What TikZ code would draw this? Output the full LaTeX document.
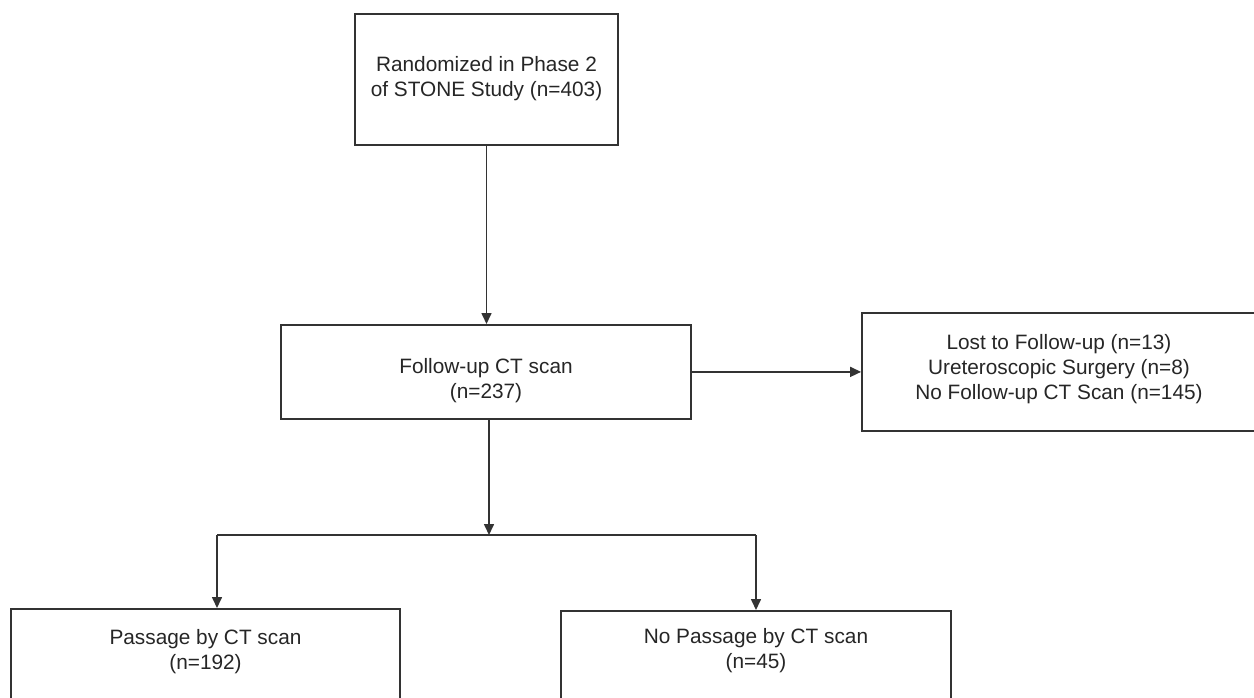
\documentclass[tikz,border=0pt]{standalone}
\usepackage{fontspec}
\setmainfont{Liberation Sans}
\usetikzlibrary{arrows.meta}
\definecolor{linec}{HTML}{333333}
\newcommand{\boxtxt}[3]{\parbox[c][#1][t]{#2}{\centering\strut #3}}
\begin{document}
\begin{tikzpicture}[x=0.5pt,y=-0.5pt,
  flowbox/.style={draw=linec, line width=0.9pt, rectangle, inner xsep=0pt,
    anchor=north, text=black!85, font=\fontsize{10.4}{12.5}\selectfont},
  conn/.style={draw=linec, line width=0.8pt},
  arr/.style={conn, -{Triangle[length=5.5pt,width=5pt]}}]
\useasboundingbox (0,0) rectangle (1254,697);
\fill[white] (0,0) rectangle (1254,697);
\clip (0,0) rectangle (1254,697);

% top box: 355-618 x, 13-144 y
\node[flowbox, inner ysep=20.25pt] (top) at (486.5,13)
  {\boxtxt{25pt}{131.5pt}{Randomized in Phase 2\\ of STONE Study (n=403)}};
% middle box: 281-691 x, 324-418 y
\node[flowbox, inner ysep=15.75pt] (mid) at (486,324)
  {\boxtxt{15.5pt}{205pt}{Follow-up CT scan\\ (n=237)}};
% right box: 862-1256 x, 312-430 y
\node[flowbox, inner ysep=9.4pt] (excl) at (1059,312)
  {\boxtxt{40.2pt}{197pt}{Lost to Follow-up (n=13)\\ Ureteroscopic Surgery (n=8)\\ No Follow-up CT Scan (n=145)}};
% bottom left box: 11-400 x, top 608
\node[flowbox, inner ysep=8.9pt] (pass) at (205.5,608)
  {\boxtxt{58.2pt}{194.5pt}{Passage by CT scan\\ (n=192)}};
% bottom right box: 561-951 x, top 610
\node[flowbox, inner ysep=7.4pt] (nopass) at (756,610)
  {\boxtxt{61pt}{195pt}{No Passage by CT scan\\ (n=45)}};

\coordinate (split) at (489,535);
\coordinate (jl) at (217,535);
\coordinate (jr) at (756,535);

\draw[arr] (top.south) -- (top.south |- mid.north);
\draw[arr] (mid.east) -- (mid.east -| excl.west);
\draw[arr] (mid.south -| split) -- (split);
\draw[conn] (jl) -- (jr);
\draw[arr] (jl) -- (jl |- pass.north);
\draw[arr] (jr) -- (jr |- nopass.north);
\end{tikzpicture}
\end{document}
